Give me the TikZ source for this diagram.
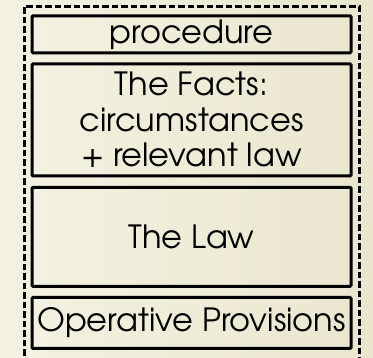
\documentclass[tikz,border=0pt]{standalone}
\usepackage{fontspec}
\setmainfont{TeX Gyre Adventor}
\definecolor{bgleft}{RGB}{244,242,226}
\definecolor{bgright}{RGB}{234,230,206}
\begin{document}
\begin{tikzpicture}[x=1pt,y=-1pt,
  box/.style={draw=black,line width=3pt,rounded corners=1pt,minimum width=319pt,inner sep=0pt,align=center,font=\fontsize{32}{35.5}\selectfont},
  frame/.style={draw=black,line width=2.6pt,dash pattern=on 6.5pt off 3pt}]
\useasboundingbox (0,0) rectangle (373,358);
\shade[left color=bgleft, right color=bgright] (0,0) rectangle (373,358);
\draw[frame] (24.5,375) -- (24.5,6.3) -- (359.5,6.3) -- (359.5,375);
\node[box,minimum height=37pt] (proc) at (191.5,34.3) {procedure};
\node[box,minimum height=112pt] (facts) at (191.5,120) {The Facts:\\circumstances\\+ relevant law};
\node[box,minimum height=99pt] (law) at (191.5,236.8) {The Law};
\node[box,minimum height=51pt] (ops) at (191.5,323) {Operative Provisions};
\end{tikzpicture}
\end{document}
